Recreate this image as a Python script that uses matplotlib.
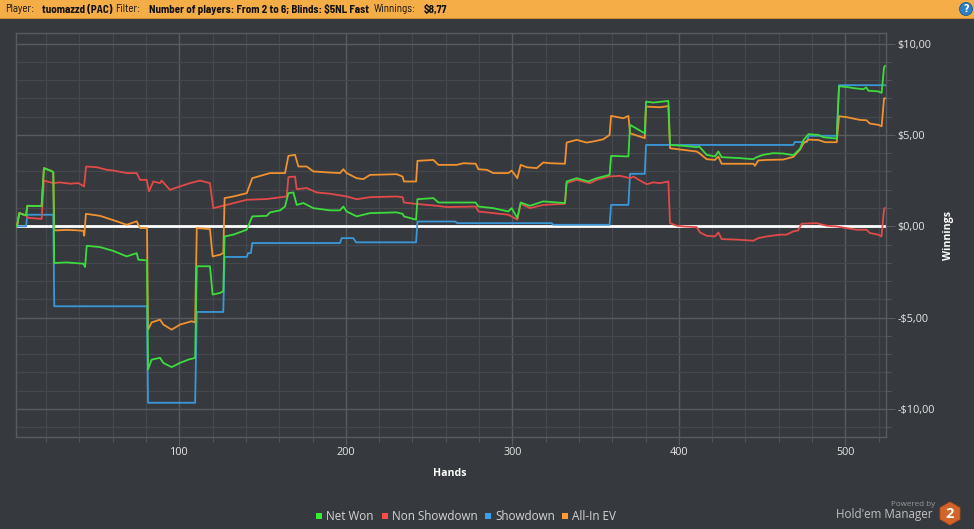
import matplotlib
matplotlib.use('Agg')
import matplotlib.pyplot as plt
from matplotlib.patches import Rectangle, RegularPolygon, Circle
from matplotlib.ticker import MultipleLocator, FuncFormatter
from matplotlib import font_manager

# ---------------- data (hand, winnings $) ----------------
net_won = [(2, 0.0), (2.7, 0.1), (3.9, 0.72), (6.0, 0.65), (8.0, 0.6), (8.7, 1.12), (17.3, 1.10), (18.7, 3.18),
           (23.3, 3.02), (24.3, 2.96), (24.9, -2.01), (32.4, -1.98), (42.4, -2.05), (43.4, -2.23), (44.4, -1.07),
           (52.4, -1.14), (60.4, -1.35), (68.4, -1.65), (74.4, -1.47), (75.4, -1.83), (80.6, -1.87), (81.2, -7.84),
           (83.4, -7.30), (88.4, -7.20), (90.4, -7.48), (95.4, -7.71), (100.4, -7.48), (105.4, -7.30), (109.5, -7.20),
           (110.5, -2.19), (118.4, -2.19), (120.0, -3.74), (124.4, -3.65), (126.4, -3.56), (127.2, -0.56),
           (132.4, -0.46), (140.5, -0.19), (143.8, 0.54), (152.5, 0.57), (154.5, 0.76), (160.5, 0.87), (163.5, 1.08),
           (165.5, 1.81), (168.5, 1.85), (170.5, 1.17), (174.5, 1.27), (180.5, 0.99), (190.5, 0.87), (196.5, 0.87),
           (198.5, 1.08), (200.5, 0.81), (206.5, 0.54), (214.5, 0.72), (230.5, 0.76), (234.1, 0.68), (234.9, 0.54),
           (242.2, 0.36), (243.0, 1.48), (252.6, 1.54), (255.6, 1.30), (278.0, 1.30), (279.6, 1.08), (288.6, 0.99),
           (297.6, 0.81), (299.6, 0.99), (303.0, 0.45), (305.0, 1.30), (310.6, 1.12), (318.6, 1.36), (331.6, 1.27),
           (332.6, 2.45), (338.6, 2.63), (345.6, 2.45), (350.6, 2.63), (358.4, 2.81), (359.3, 3.85), (369.7, 3.82),
           (370.7, 5.55), (377.7, 5.18), (379.5, 5.09), (380.3, 6.82), (384.7, 6.77), (393.7, 6.86), (394.7, 4.45),
           (402.7, 4.40), (410.7, 4.33), (412.3, 4.36), (416.7, 3.91), (421.7, 3.82), (423.7, 4.09), (425.7, 3.78),
           (436.7, 3.73), (444.7, 3.67), (446.7, 3.78), (450.7, 3.91), (456.7, 4.0), (462.7, 3.98), (468.8, 3.89),
           (472.8, 4.25), (474.8, 4.71), (477.8, 5.04), (483.8, 5.0), (486.8, 4.87), (494.8, 4.80), (496.2, 7.66),
           (500.8, 7.62), (505.8, 7.55), (510.8, 7.50), (512.5, 7.60), (513.8, 7.42), (519.8, 7.38), (521.8, 7.30),
           (523.2, 8.69), (523.8, 8.77)]

non_showdown = [(2, 0.0), (2.7, 0.1), (3.9, 0.72), (6.0, 0.65), (8.0, 0.6), (8.7, 0.47), (17.3, 0.40), (18.7, 2.50),
                (24.3, 2.36), (28.3, 2.40), (34.4, 2.33), (39.4, 2.36), (42.8, 2.18), (44.0, 3.27), (50.4, 3.23),
                (56.4, 3.09), (60.4, 3.05), (68.4, 2.91), (74.4, 2.91), (76.4, 2.54), (80.4, 2.54), (81.8, 1.91),
                (84.4, 2.45), (88.4, 2.36), (89.4, 2.50), (94.4, 1.99), (100.4, 2.18), (106.4, 2.36), (112.4, 2.50),
                (118.4, 2.36), (120.4, 0.99), (124.4, 1.08), (128.4, 1.17), (140.5, 1.45), (152.5, 1.49),
                (164.5, 1.63), (165.5, 2.69), (169.5, 2.72), (170.5, 2.03), (176.5, 2.09), (182.5, 1.85),
                (190.5, 1.78), (200.5, 1.63), (206.5, 1.48), (214.5, 1.59), (230.5, 1.63), (234.1, 1.59),
                (234.9, 1.30), (241.6, 1.23), (254.6, 1.12), (260.6, 1.05), (278.0, 1.08), (279.6, 0.81),
                (288.6, 0.72), (297.6, 0.63), (303.0, 0.36), (305.0, 1.23), (310.6, 0.99), (318.6, 1.17),
                (331.6, 1.23), (332.6, 2.36), (338.6, 2.54), (346.6, 2.36), (350.6, 2.54), (357.7, 2.72),
                (364.7, 2.76), (370.7, 2.63), (372.7, 2.72), (377.7, 2.45), (380.7, 2.30), (384.7, 2.40),
                (388.7, 2.36), (393.7, 2.45), (394.7, 0.17), (398.7, 0.03), (402.7, -0.01), (410.7, -0.05),
                (412.7, -0.34), (416.7, -0.52), (421.7, -0.56), (423.7, -0.34), (425.7, -0.70), (436.7, -0.74),
                (444.7, -0.79), (447.7, -0.65), (452.7, -0.56), (460.7, -0.46), (464.7, -0.46), (468.7, -0.28),
                (471.7, -0.23), (473.7, 0.14), (482.7, 0.17), (488.7, 0.03), (494.7, -0.01), (500.7, -0.10),
                (506.7, -0.19), (512.7, -0.19), (514.7, -0.37), (519.7, -0.46), (521.7, -0.56), (523.2, 0.93),
                (523.8, 1.0)]

showdown = [(2, 0.0), (8.0, 0.0), (8.7, 0.63), (24.3, 0.63), (24.9, -4.38), (80.6, -4.38), (81.2, -9.66),
            (109.5, -9.66), (110.5, -4.69), (126.4, -4.69), (127.2, -1.68), (140.5, -1.68), (141.3, -1.47),
            (143.0, -1.47), (143.8, -0.92), (196.5, -0.92), (197.5, -0.65), (204.5, -0.65), (206.1, -0.88),
            (242.2, -0.88), (243.0, 0.26), (265.6, 0.26), (267.0, 0.17), (323.6, 0.17), (324.6, 0.08),
            (358.4, 0.08), (359.3, 1.17), (369.7, 1.17), (370.7, 2.87), (379.5, 2.87), (380.3, 4.45),
            (468.8, 4.45), (469.6, 4.61), (477.0, 4.61), (477.8, 4.95), (494.8, 4.95), (496.2, 7.72),
            (523.8, 7.72)]

all_in_ev = [(2, 0.0), (2.7, 0.1), (3.9, 0.72), (6.0, 0.65), (8.0, 0.6), (8.7, 1.12), (17.3, 1.10), (18.7, 3.18),
             (23.3, 3.02), (24.3, 2.96), (24.9, -0.23), (32.4, -0.20), (38.0, -0.22), (42.4, -0.25), (42.9, -0.52),
             (43.9, 0.68), (52.4, 0.57), (62.4, 0.27), (68.4, 0.08), (74.4, 0.27), (76.4, -0.10), (80.6, -0.10),
             (81.2, -5.66), (83.4, -5.26), (88.4, -5.11), (90.4, -5.38), (95.4, -5.66), (100.4, -5.38),
             (107.4, -5.20), (109.5, -5.26), (110.5, -0.10), (118.4, -0.15), (120.0, -1.65), (124.4, -1.56),
             (126.4, -1.47), (127.2, 1.54), (132.4, 1.63), (140.5, 1.81), (143.8, 2.63), (154.5, 2.91),
             (163.5, 2.91), (165.5, 3.85), (169.5, 3.91), (171.5, 3.27), (176.5, 3.27), (180.5, 3.0),
             (190.5, 2.94), (196.5, 2.91), (198.5, 3.12), (200.5, 2.91), (206.5, 2.63), (210.5, 2.58),
             (214.5, 2.81), (230.5, 2.85), (234.1, 2.72), (234.9, 2.45), (242.2, 2.45), (243.0, 3.58),
             (252.6, 3.63), (255.6, 3.36), (266.6, 3.36), (270.6, 3.45), (278.0, 3.42), (279.6, 3.12),
             (284.6, 3.09), (288.6, 2.91), (297.6, 2.91), (299.6, 3.05), (301.6, 2.81), (303.0, 2.63),
             (305.0, 3.36), (308.6, 3.23), (314.6, 3.18), (318.6, 3.49), (322.6, 3.45), (331.6, 3.42),
             (332.6, 4.58), (338.6, 4.73), (344.6, 4.58), (348.6, 4.64), (354.6, 4.76), (358.4, 5.0),
             (359.3, 6.04), (366.7, 5.91), (369.7, 6.04), (370.7, 5.09), (379.5, 4.82), (380.3, 6.55),
             (388.7, 6.51), (393.7, 6.58), (394.7, 4.27), (402.7, 4.18), (410.7, 4.09), (412.3, 4.0),
             (416.7, 3.67), (421.7, 3.63), (423.7, 3.82), (425.7, 3.42), (444.7, 3.42), (445.7, 3.31),
             (447.7, 3.60), (452.7, 3.63), (462.7, 3.65), (468.8, 3.80), (472.8, 4.2), (474.8, 4.53),
             (477.8, 4.74), (483.8, 4.72), (487.8, 4.6), (494.8, 4.6), (496.2, 6.02), (500.8, 5.97),
             (508.7, 5.82), (512.7, 5.80), (514.7, 5.62), (519.8, 5.55), (521.8, 5.47), (523.2, 6.99),
             (523.8, 7.0)]

series_names = ["Net Won", "Non Showdown", "Showdown", "All-In EV"]
series_colors = ["#3ddc3d", "#e24a4a", "#3a98d8", "#ef922f"]
legend_colors = ["#33ee33", "#ff4a4a", "#38a0ee", "#ff9a33"]
x_ticks = [100, 200, 300, 400, 500]
y_ticks = [-10, -5, 0, 5, 10]

# header pieces: text, bold, left px
header_pieces = [("Player:", False, 5), ("tuomazzd (PAC)", True, 41.6), ("Filter:", False, 115.5),
                 ("Number of players: From 2 to 6; Blinds: $5NL Fast", True, 149),
                 ("Winnings:", False, 374), ("$8,77", True, 424)]

# ---------------- layout ----------------
W, H = 974, 529
plt.rcParams['font.family'] = ['Open Sans', 'DejaVu Sans']
fig = plt.figure(figsize=(W / 100, H / 100), dpi=100)
BG = '#36393d'
fig.patch.set_facecolor(BG)


def fx(px):
    return px / W


def fy(py):
    return 1 - py / H


ax = fig.add_axes([fx(15.7), fy(437.3), fx(886) - fx(15.7), fy(33.3) - fy(437.3)])
ax.set_facecolor(BG)
ax.set_xlim(1.74, 524.4)
ax.set_ylim(-11.55, 10.56)

MINOR_C = '#45484c'
MAJOR_C = '#585b5f'
ax.xaxis.set_major_locator(MultipleLocator(100))
ax.xaxis.set_minor_locator(MultipleLocator(20))
ax.yaxis.set_major_locator(MultipleLocator(5))
ax.yaxis.set_minor_locator(MultipleLocator(1))
ax.grid(which='minor', color=MINOR_C, lw=0.9, zorder=0)
ax.grid(which='major', color=MAJOR_C, lw=1.0, zorder=0)
ax.set_axisbelow(True)
for s in ax.spines.values():
    s.set_color(MAJOR_C)
    s.set_linewidth(1.0)

ax.yaxis.tick_right()


def money(v, pos=None):
    s = "$" + f"{abs(v):.2f}".replace('.', ',')
    return ("-" + s) if v < 0 else s


ax.set_xticks(x_ticks)
ax.set_xticklabels([str(t) for t in x_ticks])
ax.set_yticks(y_ticks)
ax.yaxis.set_major_formatter(FuncFormatter(money))
ax.tick_params(axis='x', which='major', length=5.5, color=MAJOR_C, labelcolor='#e6e6e6', labelsize=7.8, pad=1.5)
ax.tick_params(axis='x', which='minor', length=3.5, color=MAJOR_C)
ax.tick_params(axis='y', which='major', length=6.5, color=MAJOR_C, labelcolor='#e6e6e6', labelsize=7.8, pad=1.5,
               left=False, right=True)
ax.tick_params(axis='y', which='minor', length=3.5, color=MAJOR_C, left=False, right=True)

# zero line
ax.axhline(0, color='white', lw=2.0, zorder=2)

order = [2, 1, 3, 0]
all_series = [net_won, non_showdown, showdown, all_in_ev]
for i in order:
    d = all_series[i]
    ax.plot([p[0] for p in d], [p[1] for p in d], color=series_colors[i], lw=1.3,
            solid_joinstyle='round', zorder=3)

fig.text(fx(450), fy(474), "Hands", color='white', fontsize=7.6, fontweight='bold', ha='center', va='center')
fig.text(fx(948), fy(235), "Winnings", color='white', fontsize=7.6, fontweight='bold', ha='center', va='center',
         rotation=90)

# ---------------- header bar ----------------
fig.patches.append(Rectangle((0, fy(18)), 1, 18 / H, transform=fig.transFigure, facecolor='#f5ae47',
                             edgecolor='none', zorder=0))
fig.patches.append(Rectangle((0, fy(19)), 1, 1 / H, transform=fig.transFigure, facecolor='#c98a30',
                             edgecolor='none', zorder=0))


def pick_font(cands):
    for c in cands:
        try:
            font_manager.findfont(font_manager.FontProperties(family=c, weight='bold'), fallback_to_default=False)
            return c
        except Exception:
            pass
    return 'Liberation Sans'


HFONT = pick_font(['Barlow Semi Condensed', 'Asap Condensed', 'Cabin Condensed', 'Liberation Sans'])
fig.canvas.draw()
renderer = fig.canvas.get_renderer()
probe = fig.text(0, 0, header_pieces[3][0], fontsize=10, fontweight='bold', family=HFONT)
wpx = probe.get_window_extent(renderer).width
probe.remove()
hsize = max(6.5, min(9.5, 10.0 * 219.0 / wpx))
for txt, bold, x0 in header_pieces:
    fig.text(fx(x0), fy(9.5), txt, color='#111111', fontsize=hsize, family=HFONT,
             fontweight='bold' if bold else 'normal', ha='left', va='center')

# help icon (pixel coordinates so it stays round)
fig.patches.append(Circle((966, H - 9), 6.5, transform=None, facecolor='#2d7fc4',
                          edgecolor='#1c5a92', lw=0.6))
fig.text(fx(966), fy(9.3), "?", color='white', fontsize=7, fontweight='bold', ha='center', va='center',
         family='DejaVu Sans')

# ---------------- legend ----------------
leg_sq_x = [316, 382, 485, 562]
for name, col, sx in zip(series_names, legend_colors, leg_sq_x):
    fig.patches.append(Rectangle((fx(sx), fy(519)), 6 / W, 6 / H, transform=fig.transFigure, facecolor=col,
                                 edgecolor='none'))
    fig.text(fx(sx + 10), fy(516), name, color='#d5d5d5', fontsize=8.4, ha='left', va='center')

# ---------------- logo ----------------
fig.text(fx(935), fy(504), "Powered by", color='#9a9a9a', fontsize=5.8, ha='right', va='center')
fig.text(fx(933), fy(514.5), "Hold'em Manager", color='#c0c0c0', fontsize=8.4, ha='right', va='center')
hexa = RegularPolygon((950, H - 513.5), numVertices=6, radius=11.5, orientation=0,
                      transform=None, facecolor='#d4632a', edgecolor='#b8521f', lw=0.6)
fig.patches.append(hexa)
fig.text(fx(950), fy(514), "2", color='white', fontsize=10.5, fontweight='bold', ha='center', va='center')

fig.savefig('out.png', dpi=100, facecolor=BG)
